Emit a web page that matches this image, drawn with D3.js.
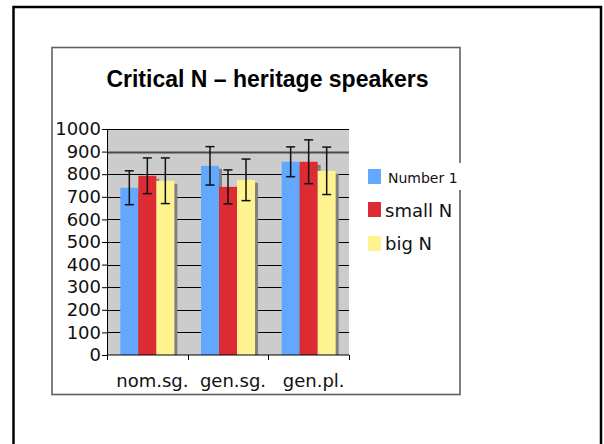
<!DOCTYPE html>
<html>
<head>
<meta charset="utf-8">
<script src="https://cdn.jsdelivr.net/npm/d3@7"></script>
<style>
  body { margin: 0; background: #fff; }
  svg { display: block; }
</style>
</head>
<body>
<div id="chart"></div>
<script>
// data
var categories = ["nom.sg.", "gen.sg.", "gen.pl."];
var seriesNames = ["Number 1", "small N", "big N"];
var seriesColors = ["#63a8ff", "#dd2b33", "#fff38f"];
var number1 = [740, 837, 855];
var smallN = [793, 744, 855];
var bigN = [771, 775, 815];
var number1Err = [75, 85, 66];
var smallNErr = [79, 75, 97];
var bigNErr = [101, 92, 105];
var yTicks = [0, 100, 200, 300, 400, 500, 600, 700, 800, 900, 1000];

var width = 604, height = 444;
var plot = {left: 107, right: 349, top: 129, bottom: 355};

var values = [number1, smallN, bigN];
var errors = [number1Err, smallNErr, bigNErr];

var svg = d3.select("#chart").append("svg")
    .attr("width", width)
    .attr("height", height);

svg.append("rect").attr("width", width).attr("height", height).attr("fill", "#fff");

// outer frame of the slide
svg.append("rect")
    .attr("x", 13.5).attr("y", 7)
    .attr("width", 587.5).attr("height", 460)
    .attr("fill", "none").attr("stroke", "#000").attr("stroke-width", 2.5);

// chart box
svg.append("rect")
    .attr("x", 52).attr("y", 47.5)
    .attr("width", 408).attr("height", 347)
    .attr("fill", "#fff").attr("stroke", "#606060").attr("stroke-width", 1.6);

svg.append("text")
    .attr("x", 267.5).attr("y", 86.5)
    .attr("text-anchor", "middle")
    .style("font-family", "'Liberation Sans', Arial, sans-serif")
    .style("font-weight", "bold")
    .style("font-size", "23px")
    .text("Critical N \u2013 heritage speakers");

var x = d3.scaleBand().domain(categories)
    .range([plot.left, plot.right])
    .paddingInner(0.33).paddingOuter(0.165);
var xs = d3.scaleBand().domain(d3.range(seriesNames.length))
    .range([0, x.bandwidth()]);
var y = d3.scaleLinear().domain([0, 1000]).range([plot.bottom, plot.top]);

// plot background
svg.append("rect")
    .attr("x", plot.left).attr("y", y(1000))
    .attr("width", plot.right - plot.left).attr("height", y(0) - y(1000))
    .attr("fill", "#cccccc");

// gridlines
svg.append("g").selectAll("line")
    .data(yTicks.filter(function(d){ return d > 0; }))
    .enter().append("line")
    .attr("x1", plot.left).attr("x2", plot.right)
    .attr("y1", function(d){ return Math.round(y(d)) + 0.5; })
    .attr("y2", function(d){ return Math.round(y(d)) + 0.5; })
    .attr("stroke", function(d){ return d == 900 ? "#4a4a4a" : "#000"; })
    .attr("stroke-width", function(d){ return d == 900 ? 2 : 1; });

// bars with a grey drop shadow
var bars = svg.append("g");
categories.forEach(function(c, i) {
    values.forEach(function(s, j) {
        var bx = x(c) + xs(j);
        bars.append("rect")
            .attr("x", bx + 3).attr("y", y(s[i]) + 3)
            .attr("width", xs.bandwidth()).attr("height", y(0) - y(s[i]) - 3)
            .attr("fill", "#808080");
        bars.append("rect")
            .attr("x", bx).attr("y", y(s[i]))
            .attr("width", xs.bandwidth()).attr("height", y(0) - y(s[i]))
            .attr("fill", seriesColors[j]);
    });
});

// error bars
var errs = svg.append("g").attr("stroke", "#111").attr("stroke-width", 1.5);
categories.forEach(function(c, i) {
    values.forEach(function(s, j) {
        var cx = x(c) + xs(j) + xs.bandwidth() / 2;
        var hi = y(s[i] + errors[j][i]), lo = y(s[i] - errors[j][i]);
        errs.append("line").attr("x1", cx).attr("x2", cx).attr("y1", hi).attr("y2", lo);
        errs.append("line").attr("x1", cx - 4.5).attr("x2", cx + 4.5).attr("y1", hi).attr("y2", hi);
        errs.append("line").attr("x1", cx - 4.5).attr("x2", cx + 4.5).attr("y1", lo).attr("y2", lo);
    });
});

// y axis
var yAxis = svg.append("g")
    .attr("transform", "translate(" + [plot.left, 0] + ")")
    .call(d3.axisLeft(y).tickValues(yTicks).tickFormat(d3.format("d"))
        .tickSizeInner(5).tickSizeOuter(0).tickPadding(1));
yAxis.select(".domain").attr("stroke", "#000");
yAxis.selectAll(".tick line").attr("stroke", "#000");
yAxis.selectAll("text")
    .attr("fill", "#111")
    .style("font-family", "'DejaVu Sans', Verdana, sans-serif")
    .style("font-size", "18px");

// x axis line with ticks at category boundaries
var xAxis = svg.append("g");
xAxis.append("line")
    .attr("x1", plot.left).attr("x2", plot.right)
    .attr("y1", y(0)).attr("y2", y(0))
    .attr("stroke", "#000");
d3.range(categories.length + 1).forEach(function(k) {
    var tx = Math.round(plot.left + k * x.step()) + 0.5;
    xAxis.append("line")
        .attr("x1", tx).attr("x2", tx)
        .attr("y1", y(0)).attr("y2", y(0) + 5)
        .attr("stroke", "#000");
});
xAxis.selectAll("text.cat")
    .data(categories)
    .enter().append("text")
    .attr("class", "cat")
    .attr("x", function(d){ return x(d) + x.bandwidth() / 2 + 5; })
    .attr("y", 386.5)
    .attr("text-anchor", "middle")
    .attr("fill", "#111")
    .style("font-family", "'DejaVu Sans', Verdana, sans-serif")
    .style("font-size", "18px")
    .text(function(d){ return d; });

// legend
var legend = svg.append("g");
legend.append("rect")
    .attr("x", 385).attr("y", 163).attr("width", 78).attr("height", 27)
    .attr("fill", "#fff");
var legY = [169, 202, 236];
var legBase = [182.7, 216.7, 250];
seriesNames.forEach(function(n, j) {
    legend.append("rect")
        .attr("x", 368).attr("y", legY[j])
        .attr("width", 13).attr("height", 15)
        .attr("fill", seriesColors[j]);
    legend.append("text")
        .attr("x", j == 0 ? 388 : 385).attr("y", legBase[j])
        .attr("fill", "#111")
        .style("font-family", "'DejaVu Sans', Verdana, sans-serif")
        .style("font-size", j == 0 ? "14px" : "18px")
        .text(n);
});
</script>
</body>
</html>
